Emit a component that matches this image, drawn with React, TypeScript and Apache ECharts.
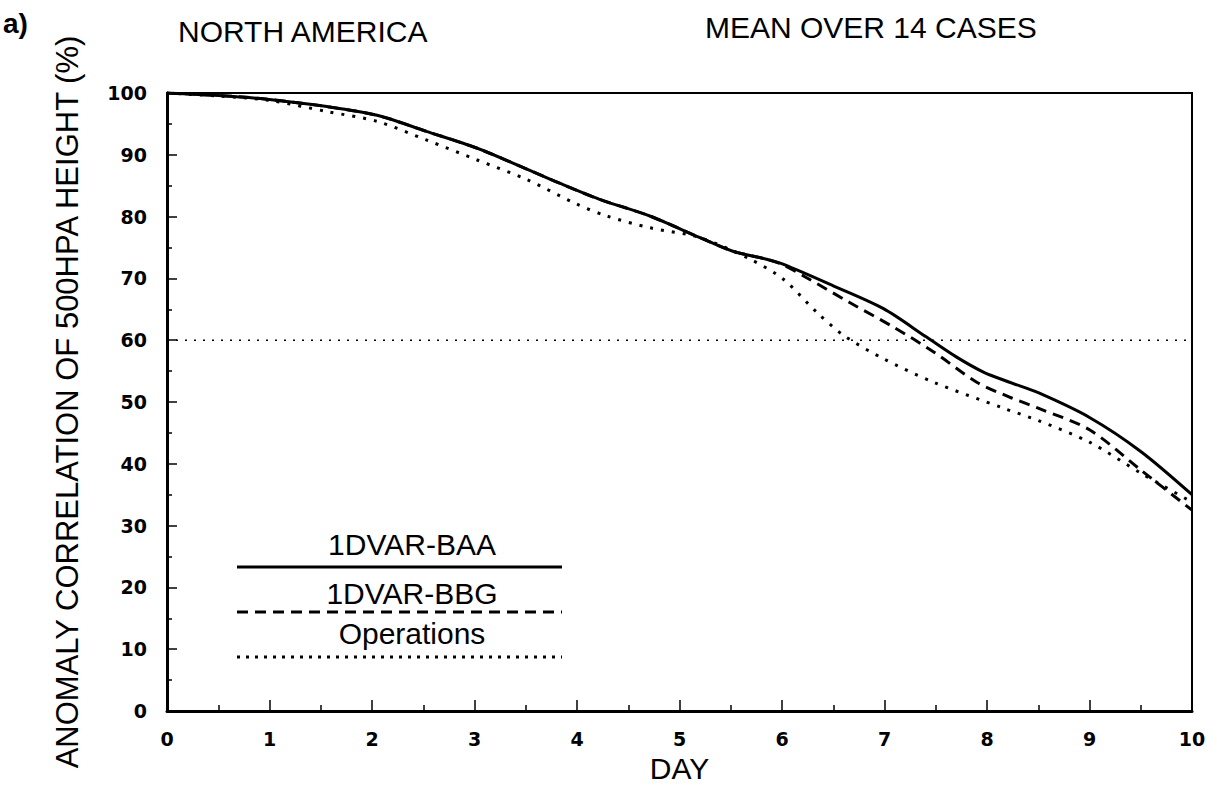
import React, { useEffect, useRef } from "react";
import * as echarts from "echarts";

// Forecast day (x) and anomaly correlation in % (y) for each experiment
const baaDays = [0, 0.5, 0.91, 1.56, 2.05, 2.53, 3.02, 3.51, 3.83, 4.22, 4.71, 5.2, 5.52, 5.85, 6.01, 6.5, 6.99, 7.41, 7.7, 7.97, 8.22, 8.5, 9.0, 9.5, 10];
const baaValues = [100, 99.6, 99.1, 97.8, 96.4, 93.8, 91.1, 87.7, 85.4, 82.8, 80.1, 76.6, 74.4, 73.1, 72.3, 68.8, 65.1, 60.5, 57.3, 54.8, 53.2, 51.5, 47.5, 42, 35];

const bbgDays = [0, 0.5, 0.91, 1.56, 2.05, 2.53, 3.02, 3.51, 3.83, 4.22, 4.71, 5.2, 5.52, 5.85, 6.01, 6.21, 6.66, 7.09, 7.48, 7.9, 8.22, 8.5, 9.0, 9.5, 10];
const bbgValues = [100, 99.6, 99.1, 97.8, 96.4, 93.8, 91.1, 87.7, 85.4, 82.8, 80.1, 76.6, 74.4, 73.1, 72.2, 70.4, 66.1, 62.1, 58.1, 53.2, 50.8, 49, 45.5, 39, 32.5];

const opsDays = [0, 0.5, 1.0, 1.56, 2.05, 2.53, 3.02, 3.51, 4.0, 4.29, 4.71, 5.2, 5.69, 6.01, 6.34, 6.6, 6.99, 7.48, 8.16, 8.5, 9.0, 9.5, 10];
const opsValues = [100, 99.5, 98.8, 97.0, 95.4, 92.4, 89.2, 86.0, 82.0, 80.1, 78.2, 76.6, 73.1, 69.9, 64.5, 60.8, 57.0, 53.2, 49.0, 47, 43.5, 38.5, 33.8];

// Reference skill threshold
const refDays = [0, 10];
const refValues = [60, 60];

const seriesNames = ["1DVAR-BAA", "1DVAR-BBG", "Operations"];

const pairs = (xs: number[], ys: number[]) => xs.map((x, i) => [x, ys[i]]);

const FONT = "'Liberation Sans', Arial, sans-serif";
const TICK_FONT = "'DejaVu Sans', sans-serif";

export default function App() {
  const ref = useRef<HTMLDivElement>(null);

  useEffect(() => {
    if (!ref.current) return;
    const chart = echarts.init(ref.current, null, { renderer: "svg" });

    const legendX1 = 237;
    const legendX2 = 562;
    const legendCx = 412;

    chart.setOption({
      animation: false,
      backgroundColor: "#ffffff",
      grid: {
        left: 167,
        top: 93,
        width: 1025,
        height: 621,
        show: true,
        borderColor: "#000",
        borderWidth: 2,
        backgroundColor: "transparent",
      },
      xAxis: {
        type: "value",
        min: 0,
        max: 10,
        interval: 1,
        name: "DAY",
        nameLocation: "middle",
        nameGap: 42,
        nameTextStyle: { fontFamily: FONT, fontSize: 30, color: "#000" },
        axisLine: { show: true, lineStyle: { color: "#000", width: 3 } },
        axisTick: { show: true, inside: true, length: 11, lineStyle: { color: "#000", width: 1.5 } },
        minorTick: { show: true, splitNumber: 2, length: 6, lineStyle: { color: "#000", width: 1.5 } },
        splitLine: { show: false },
        axisLabel: { margin: 18, fontFamily: TICK_FONT, fontWeight: "bold", fontSize: 19, color: "#000" },
      },
      yAxis: {
        type: "value",
        min: 0,
        max: 100,
        interval: 10,
        name: "ANOMALY CORRELATION OF 500HPA HEIGHT (%)",
        nameLocation: "middle",
        nameGap: 84,
        nameRotate: 90,
        nameTextStyle: { fontFamily: FONT, fontSize: 31, color: "#000" },
        axisLine: { show: true, lineStyle: { color: "#000", width: 3 } },
        axisTick: { show: true, inside: true, length: 10, lineStyle: { color: "#000", width: 1.5 } },
        minorTick: { show: true, splitNumber: 2, length: 5, lineStyle: { color: "#000", width: 1.5 } },
        splitLine: { show: false },
        axisLabel: { margin: 20, fontFamily: TICK_FONT, fontWeight: "bold", fontSize: 19, color: "#000" },
      },
      series: [
        {
          name: "threshold",
          type: "line",
          data: pairs(refDays, refValues),
          showSymbol: false,
          silent: true,
          lineStyle: { color: "#000", width: 1.6, type: [2, 7] },
          z: 1,
        },
        {
          name: seriesNames[2],
          type: "line",
          data: pairs(opsDays, opsValues),
          showSymbol: false,
          smooth: 0.3,
          lineStyle: { color: "#000", width: 3, type: [3, 8] },
          z: 2,
        },
        {
          name: seriesNames[1],
          type: "line",
          data: pairs(bbgDays, bbgValues),
          showSymbol: false,
          smooth: 0.3,
          lineStyle: { color: "#000", width: 3, type: [11, 7] },
          z: 3,
        },
        {
          name: seriesNames[0],
          type: "line",
          data: pairs(baaDays, baaValues),
          showSymbol: false,
          smooth: 0.3,
          lineStyle: { color: "#000", width: 3 },
          z: 4,
        },
      ],
      graphic: [
        {
          type: "text",
          left: 3,
          top: 9,
          style: { text: "a)", font: `bold 28px ${FONT}`, fill: "#000" },
        },
        {
          type: "text",
          x: 178,
          y: 31,
          style: { text: "NORTH AMERICA", font: `30px ${FONT}`, fill: "#000", textVerticalAlign: "middle" },
        },
        {
          type: "text",
          x: 705,
          y: 27,
          style: { text: "MEAN OVER 14 CASES", font: `30px ${FONT}`, fill: "#000", textVerticalAlign: "middle" },
        },
        {
          type: "text",
          x: legendCx,
          y: 544,
          style: { text: seriesNames[0], font: `30px ${FONT}`, fill: "#000", textAlign: "center", textVerticalAlign: "middle" },
        },
        {
          type: "line",
          shape: { x1: legendX1, y1: 567, x2: legendX2, y2: 567 },
          style: { stroke: "#000", lineWidth: 3 },
        },
        {
          type: "text",
          x: legendCx,
          y: 593,
          style: { text: seriesNames[1], font: `30px ${FONT}`, fill: "#000", textAlign: "center", textVerticalAlign: "middle" },
        },
        {
          type: "line",
          shape: { x1: legendX1, y1: 612, x2: legendX2, y2: 612 },
          style: { stroke: "#000", lineWidth: 3, lineDash: [11, 7] },
        },
        {
          type: "text",
          x: legendCx,
          y: 633,
          style: { text: seriesNames[2], font: `30px ${FONT}`, fill: "#000", textAlign: "center", textVerticalAlign: "middle" },
        },
        {
          type: "line",
          shape: { x1: legendX1, y1: 657, x2: legendX2, y2: 657 },
          style: { stroke: "#000", lineWidth: 3, lineDash: [3, 6] },
        },
      ],
    });

    return () => chart.dispose();
  }, []);

  return (
    <div
      ref={ref}
      style={{ position: "absolute", left: 0, top: 0, width: 1212, height: 788, background: "#fff" }}
    />
  );
}
